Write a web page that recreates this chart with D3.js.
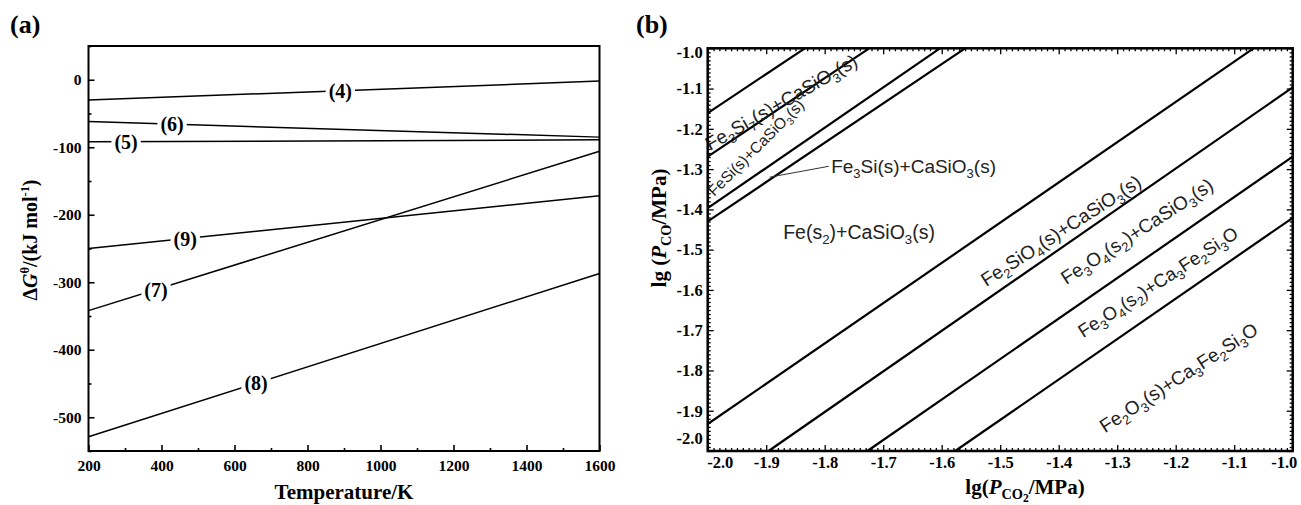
<!DOCTYPE html>
<html>
<head>
<meta charset="utf-8">
<script src="https://cdn.jsdelivr.net/npm/d3@7/dist/d3.min.js"></script>
<style>
  body { margin: 0; background: #fff; }
  svg { display: block; }
</style>
</head>
<body>
<div id="chart"></div>
<script>
// ---- panel (a): standard Gibbs energy of reactions (4)-(9) vs temperature ----
const reactionLabels = ["(4)", "(5)", "(6)", "(7)", "(8)", "(9)"];
const tempRange = [200, 1600];
const dGStart = [-30, -92, -62, -342, -529, -250];   // kJ/mol at 200 K
const dGEnd = [-2, -89, -85, -106, -287, -172];      // kJ/mol at 1600 K
const labelTemps = [890, 303, 429, 385, 659, 465];   // where each label sits on its line
const tempTicks = [200, 400, 600, 800, 1000, 1200, 1400, 1600];
const dGTicks = [0, -100, -200, -300, -400, -500];

// ---- panel (b): predominance diagram lg(P_CO) vs lg(P_CO2) ----
const lineX1 = [-2.0, -2.0, -2.0, -2.0, -2.0, -1.896, -1.727, -1.577];
const lineY1 = [-1.161, -1.269, -1.397, -1.430, -1.933, -2.0, -2.0, -2.0];
const lineX2 = [-1.834, -1.724, -1.603, -1.560, -1.067, -1.0, -1.0, -1.0];
const lineY2 = [-1.0, -1.0, -1.0, -1.0, -1.0, -1.097, -1.269, -1.421];
const phaseNames = [
  "Fe_{3}Si_{7}(s)+CaSiO_{3}(s)",
  "FeSi(s)+CaSiO_{3}(s)",
  "Fe_{3}Si(s)+CaSiO_{3}(s)",
  "Fe(s_{2})+CaSiO_{3}(s)",
  "Fe_{2}SiO_{4}(s)+CaSiO_{3}(s)",
  "Fe_{3}O_{4}(s_{2})+CaSiO_{3}(s)",
  "Fe_{3}O_{4}(s_{2})+Ca_{3}Fe_{2}Si_{3}O",
  "Fe_{2}O_{3}(s)+Ca_{3}Fe_{2}Si_{3}O"
];
// baseline start of each phase label (lg P_CO2, lg P_CO), its angle and size
const phaseX = [-1.996, -1.989, -1.789, -1.871, -1.524, -1.387, -1.358, -1.321];
const phaseY = [-1.255, -1.369, -1.310, -1.474, -1.593, -1.588, -1.720, -1.956];
const phaseAngle = [-30, -45, 0, 0, -33, -33, -33, -33];
const phaseSize = [19, 15.5, 19, 19.5, 19, 19, 18.5, 19];
const leaderX = [-1.894, -1.793];
const leaderY = [-1.320, -1.293];
const lgTicks = [-2.0, -1.9, -1.8, -1.7, -1.6, -1.5, -1.4, -1.3, -1.2, -1.1, -1.0];

const serif = "'Liberation Serif', 'Times New Roman', serif";
const sans = "'Liberation Sans', Arial, sans-serif";

const svg = d3.select("#chart").append("svg")
  .attr("width", 1301)
  .attr("height", 505);

// writes "A_{sub}B^{sup}~{ital}" style strings into a text element as tspans
function richText(text, str, size) {
  const re = /(\^|__|_|~)\{([^}]*)\}/g;
  const parts = [];
  let last = 0, m;
  while ((m = re.exec(str)) !== null) {
    if (m.index > last) parts.push({ t: str.slice(last, m.index), k: "" });
    parts.push({ t: m[2], k: m[1] });
    last = re.lastIndex;
  }
  if (last < str.length) parts.push({ t: str.slice(last), k: "" });
  const shift = { "": 0, "~": 0, "_": 0.25, "__": 0.4, "^": -0.4 };
  const scale = { "": 1, "~": 1, "_": 0.68, "__": 0.55, "^": 0.62 };
  let cur = 0;
  parts.forEach(p => {
    const target = shift[p.k] * size;
    const ts = text.append("tspan")
      .attr("dy", target - cur)
      .attr("font-size", scale[p.k] * size)
      .text(p.t);
    if (p.k === "~") ts.attr("font-style", "italic");
    cur = target;
  });
  return text;
}

// ================= panel (a) =================
const xa = d3.scaleLinear().domain([200, 1600]).range([88.5, 599.5]);
const ya = d3.scaleLinear().domain([-550, 50]).range([451, 46]);
const ga = svg.append("g");

// left axis, ticks pointing inward
ga.append("g")
  .attr("transform", `translate(${xa.range()[0]},0)`)
  .call(d3.axisLeft(ya).tickValues(dGTicks).tickSizeInner(-6).tickSizeOuter(0).tickPadding(7)
    .tickFormat(d => String(d)));
ga.append("g")
  .attr("transform", `translate(${xa.range()[0]},0)`)
  .call(d3.axisLeft(ya).tickValues(d3.range(-550, 51, 50).filter(v => v % 100 !== 0))
    .tickSizeInner(-3).tickSizeOuter(0).tickFormat(""));

ga.append("g")
  .attr("transform", `translate(0,${ya.range()[0]})`)
  .call(d3.axisBottom(xa).tickValues(tempTicks).tickSizeInner(-6).tickSizeOuter(0).tickPadding(9)
    .tickFormat(d => String(d)));
ga.append("g")
  .attr("transform", `translate(0,${ya.range()[0]})`)
  .call(d3.axisBottom(xa).tickValues(d3.range(300, 1600, 200))
    .tickSizeInner(-3).tickSizeOuter(0).tickFormat(""));

ga.selectAll(".domain").remove();
ga.selectAll(".tick line").attr("stroke", "#000").attr("stroke-width", 1.6);
ga.selectAll(".tick text")
  .attr("font-family", serif)
  .attr("font-weight", "bold")
  .attr("font-size", 15.5)
  .attr("fill", "#000");

// reaction lines
const lineA = d3.line().x(d => xa(d[0])).y(d => ya(d[1]));
reactionLabels.forEach((lab, i) => {
  ga.append("path")
    .attr("d", lineA([[tempRange[0], dGStart[i]], [tempRange[1], dGEnd[i]]]))
    .attr("fill", "none")
    .attr("stroke", "#000")
    .attr("stroke-width", 1.5);
});

// labels sitting on the lines with white boxes
reactionLabels.forEach((lab, i) => {
  const t = labelTemps[i];
  const v = dGStart[i] + (dGEnd[i] - dGStart[i]) * (t - tempRange[0]) / (tempRange[1] - tempRange[0]);
  const g = ga.append("g").attr("transform", `translate(${xa(t)},${ya(v)})`);
  const box = g.append("rect").attr("fill", "#fff");
  const txt = g.append("text")
    .attr("text-anchor", "middle")
    .attr("dy", "0.35em")
    .attr("font-family", serif)
    .attr("font-weight", "bold")
    .attr("font-size", 20)
    .text(lab);
  const bb = txt.node().getBBox();
  box.attr("x", bb.x - 3).attr("y", bb.y).attr("width", bb.width + 6).attr("height", bb.height);
});

// frame
ga.append("rect")
  .attr("x", xa.range()[0]).attr("y", ya.range()[1])
  .attr("width", xa.range()[1] - xa.range()[0])
  .attr("height", ya.range()[0] - ya.range()[1])
  .attr("fill", "none").attr("stroke", "#000").attr("stroke-width", 2);

svg.append("text").attr("x", 10).attr("y", 33)
  .attr("font-family", serif).attr("font-weight", "bold").attr("font-size", 26).text("(a)");

richText(svg.append("text")
  .attr("transform", "translate(37,240) rotate(-90)")
  .attr("text-anchor", "middle")
  .attr("font-family", serif).attr("font-weight", "bold").attr("font-size", 20),
  "Δ~{G}^{θ}/(kJ mol^{-1})", 20);

svg.append("text").attr("x", 344).attr("y", 499)
  .attr("text-anchor", "middle")
  .attr("font-family", serif).attr("font-weight", "bold").attr("font-size", 21)
  .text("Temperature/K");

// ================= panel (b) =================
const xb = d3.scaleLinear().domain([-2.0, -1.0]).range([707.7, 1292.7]);
const yb = d3.scaleLinear().domain([-2.0, -1.0]).range([451, 48.3]);
const gb = svg.append("g");

const fineTicks = d3.range(0, 101).map(i => -2 + i / 100).filter(v => Math.round(v * 100) % 10 !== 0);
const fmt = d => d.toFixed(1);

function axesB(axisFn, scale, transform, labelled) {
  gb.append("g").attr("transform", transform)
    .call(axisFn(scale).tickValues(fineTicks).tickSizeInner(-3).tickSizeOuter(0).tickFormat(""));
  return gb.append("g").attr("transform", transform)
    .call(axisFn(scale).tickValues(lgTicks).tickSizeInner(-6).tickSizeOuter(0)
      .tickPadding(labelled ? 5 : 0).tickFormat(labelled ? fmt : ""));
}
const leftB = axesB(d3.axisLeft, yb, `translate(${xb.range()[0]},0)`, true);
const bottomB = axesB(d3.axisBottom, xb, `translate(0,${yb.range()[0]})`, true);
axesB(d3.axisRight, yb, `translate(${xb.range()[1]},0)`, false);
axesB(d3.axisTop, xb, `translate(0,${yb.range()[1]})`, false);

gb.selectAll(".domain").remove();
gb.selectAll(".tick line").attr("stroke", "#000").attr("stroke-width", 1.3);
gb.selectAll(".tick text")
  .attr("font-family", serif)
  .attr("font-weight", "bold")
  .attr("font-size", 16.5)
  .attr("fill", "#000");
leftB.selectAll(".tick text").attr("dy", d => d === -2.0 ? "-0.45em" : d === -1.0 ? "0.55em" : "0.32em");
bottomB.selectAll(".tick text").attr("dx", d => d === -2.0 ? 12 : d === -1.0 ? -9 : 0);

// phase boundaries
const lineB = d3.line().x(d => xb(d[0])).y(d => yb(d[1]));
lineX1.forEach((x1, i) => {
  gb.append("path")
    .attr("d", lineB([[x1, lineY1[i]], [lineX2[i], lineY2[i]]]))
    .attr("fill", "none")
    .attr("stroke", "#000")
    .attr("stroke-width", 2.2);
});

// leader for the thin Fe3Si field
gb.append("path")
  .attr("d", lineB([[leaderX[0], leaderY[0]], [leaderX[1], leaderY[1]]]))
  .attr("stroke", "#333").attr("stroke-width", 1);

phaseNames.forEach((name, i) => {
  richText(gb.append("text")
    .attr("transform", `translate(${xb(phaseX[i])},${yb(phaseY[i])}) rotate(${phaseAngle[i]})`)
    .attr("font-family", sans)
    .attr("font-size", phaseSize[i])
    .attr("fill", "#222"),
    name, phaseSize[i]);
});

gb.append("rect")
  .attr("x", xb.range()[0]).attr("y", yb.range()[1])
  .attr("width", xb.range()[1] - xb.range()[0])
  .attr("height", yb.range()[0] - yb.range()[1])
  .attr("fill", "none").attr("stroke", "#000").attr("stroke-width", 2.5);

svg.append("text").attr("x", 636).attr("y", 33)
  .attr("font-family", serif).attr("font-weight", "bold").attr("font-size", 26).text("(b)");

richText(svg.append("text")
  .attr("transform", "translate(666,228) rotate(-90)")
  .attr("text-anchor", "middle")
  .attr("font-family", serif).attr("font-weight", "bold").attr("font-size", 21),
  "lg (~{P}_{CO}/MPa)", 21);

richText(svg.append("text")
  .attr("x", 1025).attr("y", 494)
  .attr("text-anchor", "middle")
  .attr("font-family", serif).attr("font-weight", "bold").attr("font-size", 21),
  "lg(~{P}_{CO}__{2}/MPa)", 21);
</script>
</body>
</html>
